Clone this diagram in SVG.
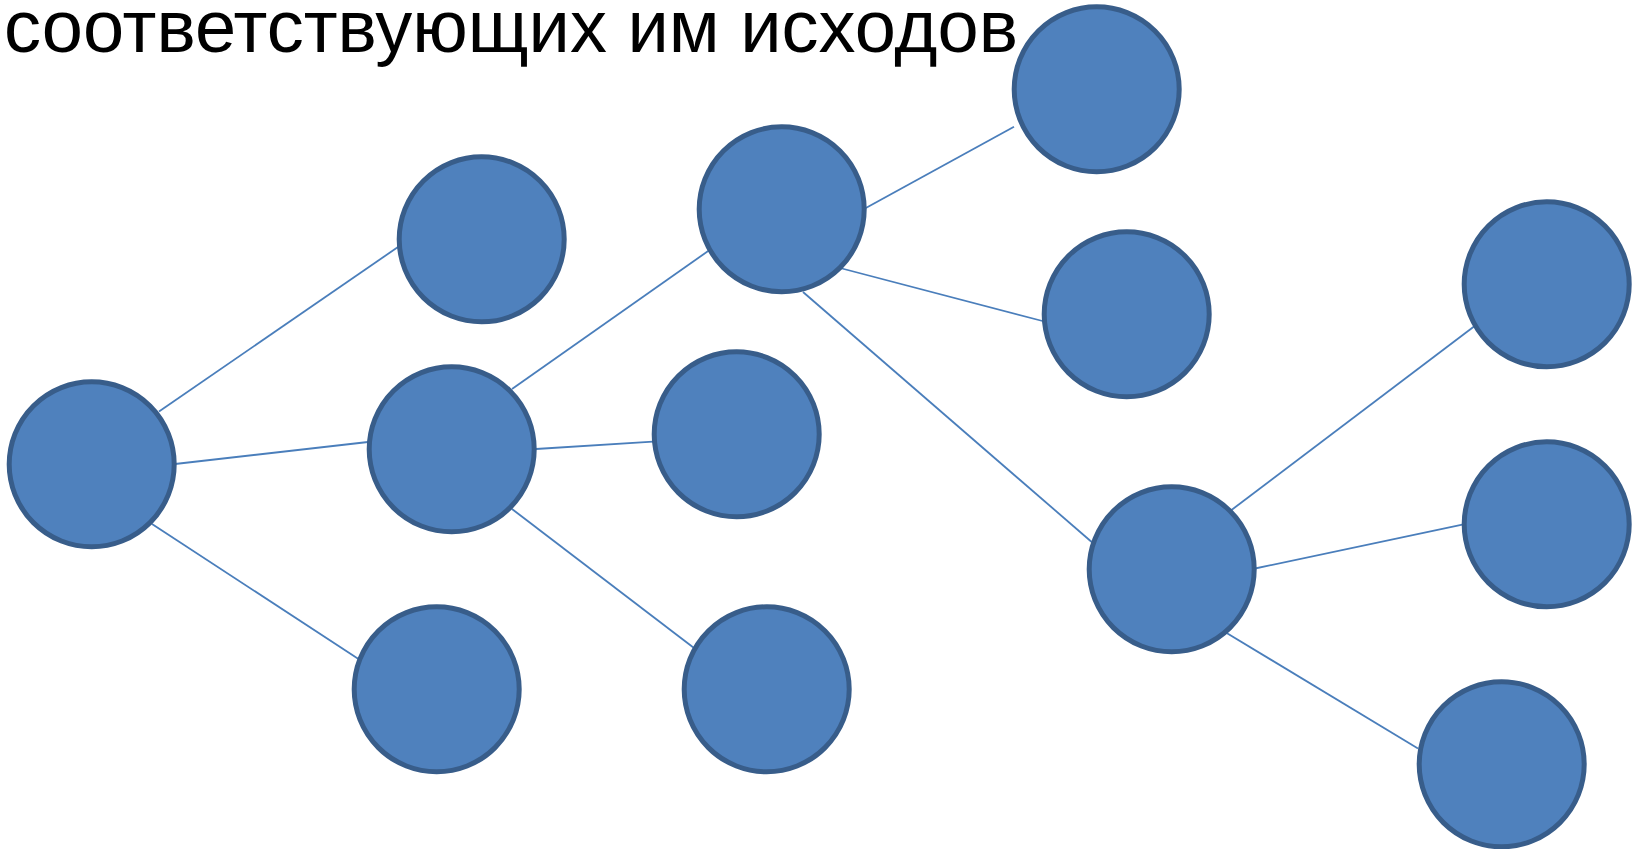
<svg xmlns="http://www.w3.org/2000/svg" width="1637" height="849" viewBox="0 0 1637 849">
<style>
.node{fill:#4F81BD;stroke:#385D8A;stroke-width:5}
.edge{stroke:#4A7EBB;stroke-width:1.8;fill:none}
.title{font-family:"Liberation Sans",Arial,sans-serif;font-size:74px;fill:#000}
</style>
<rect width="1637" height="849" fill="#fff"/>
<text class="title" x="4" y="52">соответствующих им исходов</text>
<g id="connectors">
<line class="edge" x1="159" y1="411.5" x2="398" y2="247"/>
<line class="edge" x1="175" y1="464" x2="368" y2="442"/>
<line class="edge" x1="152" y1="524" x2="360" y2="660"/>
<line class="edge" x1="512" y1="389" x2="711" y2="249"/>
<line class="edge" x1="536" y1="449" x2="653" y2="441.7"/>
<line class="edge" x1="512" y1="509" x2="694" y2="648"/>
<line class="edge" x1="864" y1="209" x2="1014" y2="126.7"/>
<line class="edge" x1="840" y1="268" x2="1042.5" y2="321"/>
<line class="edge" x1="803" y1="292" x2="1094" y2="544"/>
<line class="edge" x1="1231.5" y1="510" x2="1476" y2="325"/>
<line class="edge" x1="1255" y1="568.5" x2="1463.5" y2="524.3"/>
<line class="edge" x1="1225" y1="632" x2="1418" y2="748.5"/>
</g>
<g id="n1"><circle class="node" cx="91.7" cy="464.3" r="82.5"/></g>
<g id="n2"><circle class="node" cx="481.7" cy="239.3" r="82.5"/></g>
<g id="n3"><circle class="node" cx="451.7" cy="449.3" r="82.5"/></g>
<g id="n4"><circle class="node" cx="436.7" cy="689.3" r="82.5"/></g>
<g id="n5"><circle class="node" cx="781.7" cy="209.3" r="82.5"/></g>
<g id="n6"><circle class="node" cx="736.7" cy="434.3" r="82.5"/></g>
<g id="n7"><circle class="node" cx="766.7" cy="689.3" r="82.5"/></g>
<g id="n8"><circle class="node" cx="1096.7" cy="89.3" r="82.5"/></g>
<g id="n9"><circle class="node" cx="1126.7" cy="314.3" r="82.5"/></g>
<g id="n10"><circle class="node" cx="1171.7" cy="569.3" r="82.5"/></g>
<g id="n11"><circle class="node" cx="1546.7" cy="284.3" r="82.5"/></g>
<g id="n12"><circle class="node" cx="1546.7" cy="524.3" r="82.5"/></g>
<g id="n13"><circle class="node" cx="1501.7" cy="764.3" r="82.5"/></g>
</svg>
